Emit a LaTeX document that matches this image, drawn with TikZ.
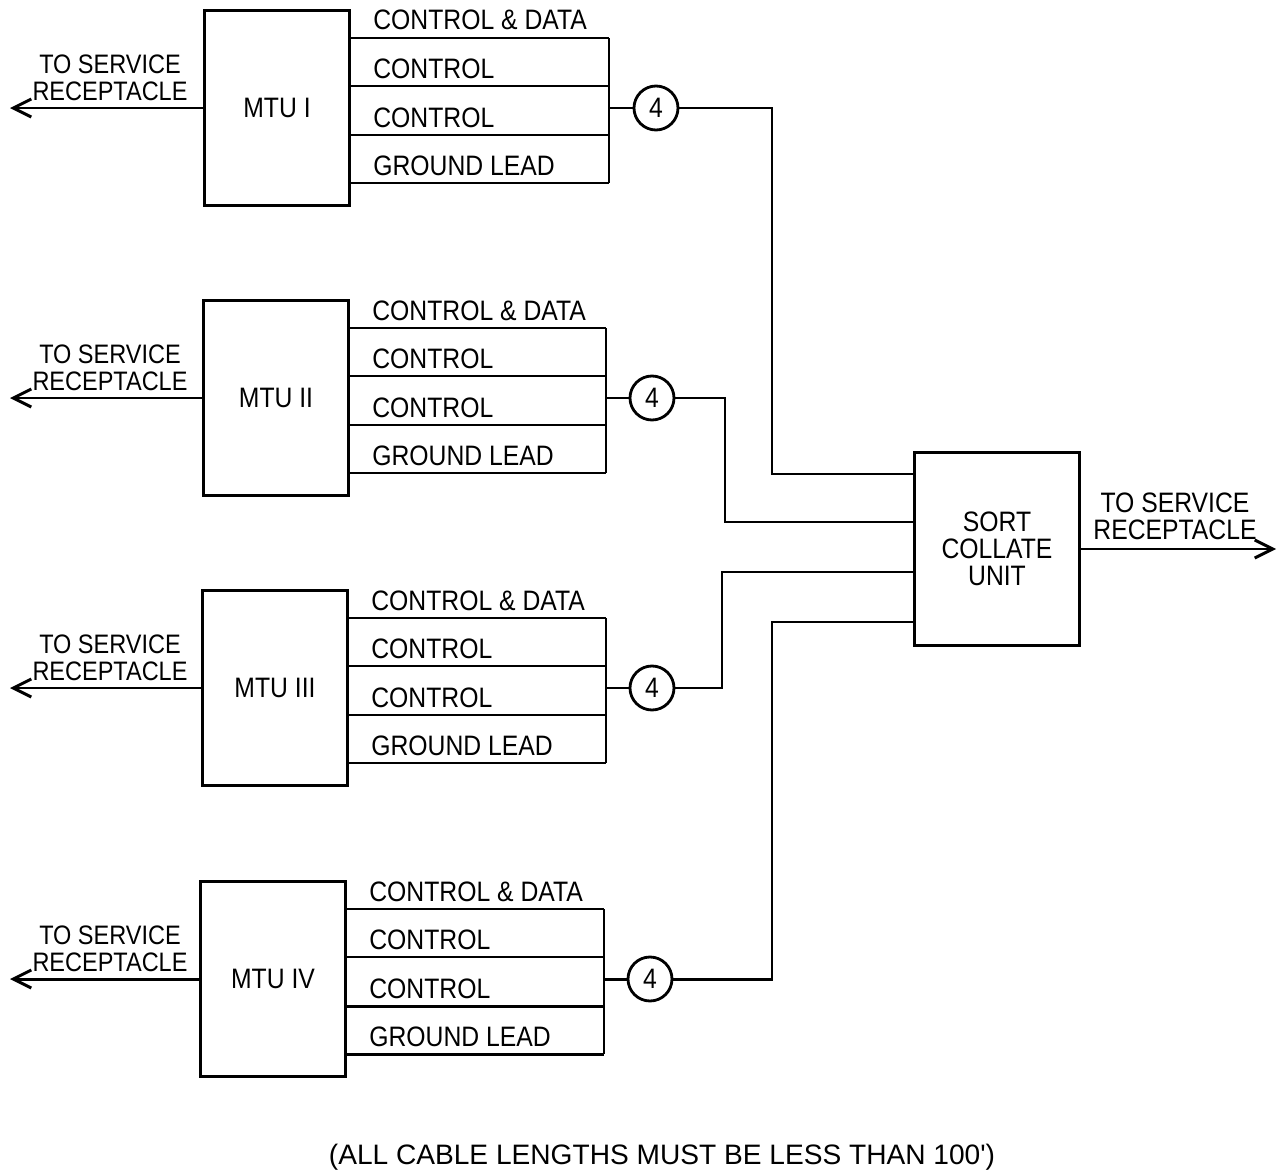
\documentclass[tikz,border=0pt]{standalone}
\usepackage{fontspec}
\setmainfont{Liberation Sans}[FakeStretch=0.88]
\newfontfamily\notefont{Liberation Sans}
\usetikzlibrary{arrows.meta}
\tikzset{
  unitbox/.style={draw, line width=1.7pt, minimum width=2.9cm, minimum height=3.9cm,
    align=center, font=\fontsize{16}{15.5}\selectfont},
  plug/.style={draw, circle, line width=1.6pt, minimum size=0.88cm, inner sep=0pt,
    font=\fontsize{16}{16}\selectfont},
  wirelabel/.style={anchor=base west, inner sep=0pt, font=\fontsize{16}{16}\selectfont},
  outlabel/.style={align=center, inner sep=0pt, font=\fontsize{16}{15.5}\selectfont},
  wire/.style={line width=1.7pt},
  feed/.style={line width=1.7pt, -{Straight Barb[length=0.36cm, width=0.36cm]}}
}

\begin{document}
\begin{tikzpicture}[x=0.02cm, y=-0.02cm]
  \useasboundingbox (0,0) rectangle (1286,1173);
  % sort collate unit
  \node[unitbox, minimum width=3.32cm, minimum height=3.88cm] (sort) at (997,549)
    {SORT\\COLLATE\\UNIT};
  \coordinate (sortout) at (1276,549);
  \draw[feed] (sort.east) -- (sortout);
  \node[outlabel] (sortnote) at (1175,516) {TO SERVICE\\RECEPTACLE};
  % the four tape units
  \foreach \i/\nm/\bx/\by/\sx/\cx/\tx/\sy in {
      1/I/277/108/609/656/772/474,
      2/II/276/398/606/652/725/522,
      3/III/275/688/606/652/722/572,
      4/IV/273/979/604/650/772/622} {
    \node[unitbox] (mtu\i) at (\bx,\by) {MTU \nm};
    \foreach \j/\txt [count=\k from 0] in {27/CONTROL \& DATA, 75/CONTROL,
        124/CONTROL, 172/GROUND LEAD} {
      \pgfmathsetmacro\wy{\by-97+\j}
      \coordinate (w\i\k) at (\sx,\wy);
      \draw[wire] (mtu\i.east |- w\i\k) -- (w\i\k);
      \node[wirelabel] (lab\i\k) at ({\bx+96},{\wy-8}) {\txt};
    }
    \draw[wire] (w\i0) -- (w\i3);
    \coordinate (bus\i) at (\sx,\by);
    \node[plug] (plug\i) at (\cx,\by) {4};
    \draw[wire] (bus\i) -- (plug\i);
    \coordinate (bend\i) at (\tx,\sy);
    \draw[wire] (plug\i) -| (bend\i) -- (sort.west |- bend\i);
    % service receptacle
    \coordinate (recv\i) at (10,\by);
    \draw[feed] (mtu\i) -- (recv\i);
    \node[outlabel, font=\fontsize{15.2}{15.5}\selectfont] (note\i) at (110,{\by-30})
      {TO SERVICE\\RECEPTACLE};
  }
  \node[font=\notefont\fontsize{16}{16}\selectfont] (cablenote) at (662,1157)
    {(ALL CABLE LENGTHS MUST BE LESS THAN 100')};
\end{tikzpicture}
\end{document}
